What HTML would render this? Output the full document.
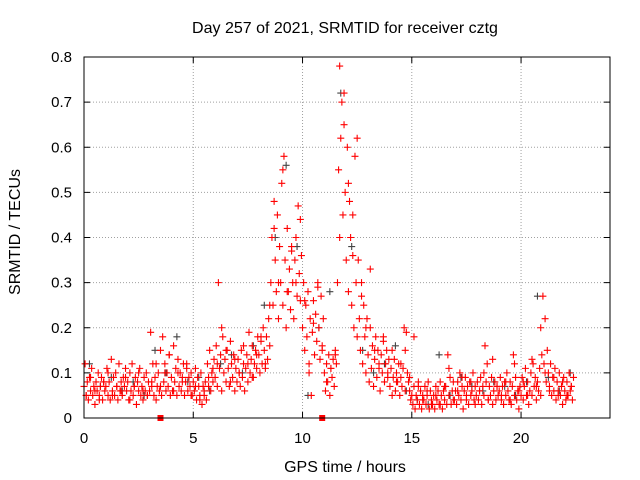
<!DOCTYPE html>
<html><head><meta charset="utf-8"><style>
body{margin:0;background:#fff;}
svg{display:block;font-family:"Liberation Sans",sans-serif;}
</style></head><body>
<svg id="c" width="640" height="480">
<text x="345" y="33" text-anchor="middle" font-size="16">Day 257 of 2021, SRMTID for receiver cztg</text>
<text x="345" y="472" text-anchor="middle" font-size="16">GPS time / hours</text>
<text transform="translate(20,232) rotate(-90)" text-anchor="middle" font-size="16">SRMTID / TECUs</text>
<g id="grid"></g><g id="marks"></g>
<rect x="84" y="57" width="526" height="361" fill="none" stroke="#000"/>
</svg>
<script>
const xTicks=[0,5,10,15,20];
const yTicks=[0,0.1,0.2,0.3,0.4,0.5,0.6,0.7,0.8];
const yTickLabels=["0","0.1","0.2","0.3","0.4","0.5","0.6","0.7","0.8"];
const mainStart=0, mainStep=0.05;
const mainValues=[
0.07,0.12,0.05,0.08,0.04,0.09,0.06,0.11,0.05,0.07,0.03,0.08,0.06,0.10,0.05,0.07,0.09,0.04,0.08,0.06,
0.07,0.11,0.05,0.08,0.04,0.13,0.06,0.09,0.05,0.10,0.07,0.04,0.12,0.06,0.08,0.05,0.09,0.07,0.11,0.06,
0.08,0.04,0.10,0.06,0.12,0.05,0.07,0.09,0.03,0.08,0.06,0.11,0.05,0.07,0.04,0.09,0.06,0.10,0.05,0.08,
0.06,0.19,0.07,0.12,0.05,0.09,0.04,0.07,0.10,0.06,0.15,0.05,0.18,0.08,0.12,0.06,0.10,0.07,0.14,0.05,
0.09,0.06,0.16,0.08,0.11,0.05,0.13,0.07,0.10,0.06,0.09,0.12,0.05,0.08,0.11,0.06,0.09,0.07,0.10,0.05,
0.08,0.06,0.11,0.04,0.09,0.07,0.05,0.10,0.03,0.07,0.05,0.08,0.04,0.12,0.07,0.15,0.06,0.10,0.08,0.13,
0.09,0.16,0.07,0.30,0.11,0.14,0.06,0.18,0.10,0.13,0.08,0.15,0.11,0.07,0.17,0.12,0.09,0.14,0.06,0.11,
0.08,0.13,0.10,0.07,0.15,0.09,0.12,0.06,0.11,0.14,0.08,0.19,0.10,0.13,0.16,0.09,0.12,0.15,0.11,0.18,
0.14,0.10,0.17,0.12,0.20,0.15,0.11,0.18,0.13,0.22,0.16,0.30,0.40,0.25,0.48,0.35,0.28,0.45,0.22,0.38,
0.30,0.52,0.25,0.58,0.35,0.20,0.42,0.28,0.33,0.24,0.38,0.30,0.22,0.35,0.40,0.27,0.47,0.32,0.26,0.36,
0.20,0.30,0.15,0.25,0.18,0.28,0.12,0.22,0.05,0.19,0.26,0.14,0.23,0.17,0.30,0.20,0.13,0.27,0.16,0.22,
0.10,0.06,0.12,0.08,0.14,0.05,0.11,0.09,0.13,0.07,0.15,0.12,0.30,0.55,0.78,0.62,0.70,0.45,0.65,0.50,
0.35,0.60,0.28,0.48,0.40,0.25,0.45,0.20,0.58,0.30,0.18,0.35,0.22,0.15,0.30,0.12,0.25,0.18,0.10,0.22,
0.14,0.08,0.20,0.11,0.16,0.07,0.13,0.18,0.09,0.15,0.11,0.06,0.14,0.10,0.17,0.08,0.12,0.15,0.09,0.13,
0.07,0.11,0.05,0.09,0.13,0.06,0.10,0.08,0.12,0.05,0.09,0.07,0.11,0.20,0.15,0.19,0.10,0.08,0.06,0.04,
0.05,0.03,0.07,0.02,0.05,0.04,0.08,0.03,0.06,0.02,0.05,0.04,0.07,0.03,0.05,0.08,0.02,0.06,0.04,0.03,
0.05,0.02,0.07,0.04,0.06,0.03,0.08,0.05,0.02,0.06,0.04,0.07,0.03,0.14,0.05,0.09,0.03,0.06,0.08,0.04,
0.06,0.03,0.08,0.05,0.10,0.04,0.07,0.02,0.06,0.09,0.04,0.07,0.03,0.08,0.05,0.06,0.10,0.04,0.07,0.05,
0.08,0.04,0.06,0.09,0.03,0.07,0.05,0.16,0.08,0.12,0.04,0.07,0.05,0.09,0.03,0.06,0.08,0.04,0.07,0.05,
0.06,0.09,0.04,0.07,0.03,0.08,0.05,0.10,0.06,0.04,0.08,0.03,0.07,0.14,0.05,0.09,0.04,0.06,0.02,0.07,
0.05,0.09,0.04,0.07,0.11,0.05,0.08,0.03,0.06,0.10,0.05,0.12,0.07,0.09,0.04,0.08,0.06,0.11,0.05,0.14,
0.27,0.12,0.22,0.08,0.15,0.10,0.07,0.12,0.05,0.09,0.06,0.11,0.04,0.08,0.06,0.10,0.05,0.07,0.03,0.09,
0.06,0.04,0.08,0.05,0.10,0.06,0.07,0.04,0.09];
const secondStart=0.1, secondStep=0.2;
const secondValues=[
0.05,0.09,0.06,0.04,0.08,0.10,0.05,0.07,0.06,0.09,
0.04,0.07,0.10,0.06,0.05,0.08,0.12,0.07,0.10,0.14,
0.06,0.10,0.08,0.12,0.05,0.07,0.04,0.06,0.09,0.11,
0.12,0.20,0.15,0.08,0.13,0.10,0.16,0.12,0.09,0.14,
0.18,0.12,0.25,0.42,0.30,0.55,0.28,0.37,0.30,0.44,
0.26,0.10,0.21,0.29,0.15,0.08,0.11,0.14,0.40,0.72,
0.52,0.36,0.62,0.27,0.20,0.33,0.15,0.12,0.18,0.10,
0.15,0.08,0.12,0.06,0.09,0.18,0.07,0.04,0.06,0.03,
0.05,0.03,0.07,0.11,0.04,0.06,0.09,0.05,0.08,0.03,
0.06,0.10,0.04,0.13,0.07,0.05,0.08,0.04,0.12,0.06,
0.08,0.05,0.13,0.07,0.20,0.10,0.06,0.09,0.05,0.08,
0.05,0.07];
const greyStart=0.25, greyStep=0.5;
const greyValues=[0.12,0.07,0.09,0.06,0.08,0.05,0.15,0.10,0.18,0.08,0.09,0.06,0.12,0.14,0.10,0.16,0.25,0.40,0.56,0.38,0.05,0.20,0.28,0.72,0.38,0.15,0.10,0.12,0.16,0.06,0.04,0.03,0.14,0.05,0.09,0.07,0.06,0.08,0.07,0.05,0.08,0.27,0.09,0.06,0.10];
const gapTimes=[3.5,10.9];
const gapValues=[0,0];

const NS="http://www.w3.org/2000/svg";
const X=t=>84+t*(526/24.07);
const Y=v=>418-v*(361/0.8);
const grid=document.getElementById('grid'), marks=document.getElementById('marks');
function mk(tag,attrs,parent){const e=document.createElementNS(NS,tag);for(const k in attrs)e.setAttribute(k,attrs[k]);parent.appendChild(e);return e;}
yTicks.forEach((v,i)=>{
  if(i>0&&i<yTicks.length-1){const g=mk('line',{x1:84,x2:610,y1:Y(v),y2:Y(v),stroke:'#a0a0a0','stroke-dasharray':'1,2'},grid);
  
  }
  mk('line',{x1:84,x2:90,y1:Y(v),y2:Y(v),stroke:'#000'},grid);
  mk('line',{x1:604,x2:610,y1:Y(v),y2:Y(v),stroke:'#000'},grid);
  const t=mk('text',{x:72,y:Y(v)+5,'text-anchor':'end','font-size':15},grid);t.textContent=yTickLabels[i];
  
  
});
xTicks.forEach(v=>{
  if(v>0){const g=mk('line',{x1:X(v),x2:X(v),y1:57,y2:418,stroke:'#a0a0a0','stroke-dasharray':'1,2'},grid);
  
  }
  mk('line',{x1:X(v),x2:X(v),y1:418,y2:412,stroke:'#000'},grid);
  mk('line',{x1:X(v),x2:X(v),y1:57,y2:63,stroke:'#000'},grid);
  const t=mk('text',{x:X(v),y:443,'text-anchor':'middle','font-size':15},grid);t.textContent=String(v);
  
  
});
function plus(t,v,col,name){
  const x=X(t),y=Y(v);
  const p=mk('path',{d:`M${x-3.5} ${y}H${x+3.5}M${x} ${y-3.5}V${y+3.5}`,stroke:col,'stroke-width':1.1,fill:'none'},marks);
  
  
}
greyValues.forEach((v,i)=>plus(greyStart+i*greyStep,v,'#444','grey-point'));
mainValues.forEach((v,i)=>plus(mainStart+i*mainStep,v,'#ff0000','srmtid-point'));
secondValues.forEach((v,i)=>plus(secondStart+i*secondStep,v,'#ff0000','srmtid-point'));
gapTimes.forEach((t,i)=>{
  const r=mk('rect',{x:X(t)-3,y:Y(gapValues[i])-3,width:6,height:6,fill:'#ff0000'},marks);
  
  
});
</script>
</body></html>
